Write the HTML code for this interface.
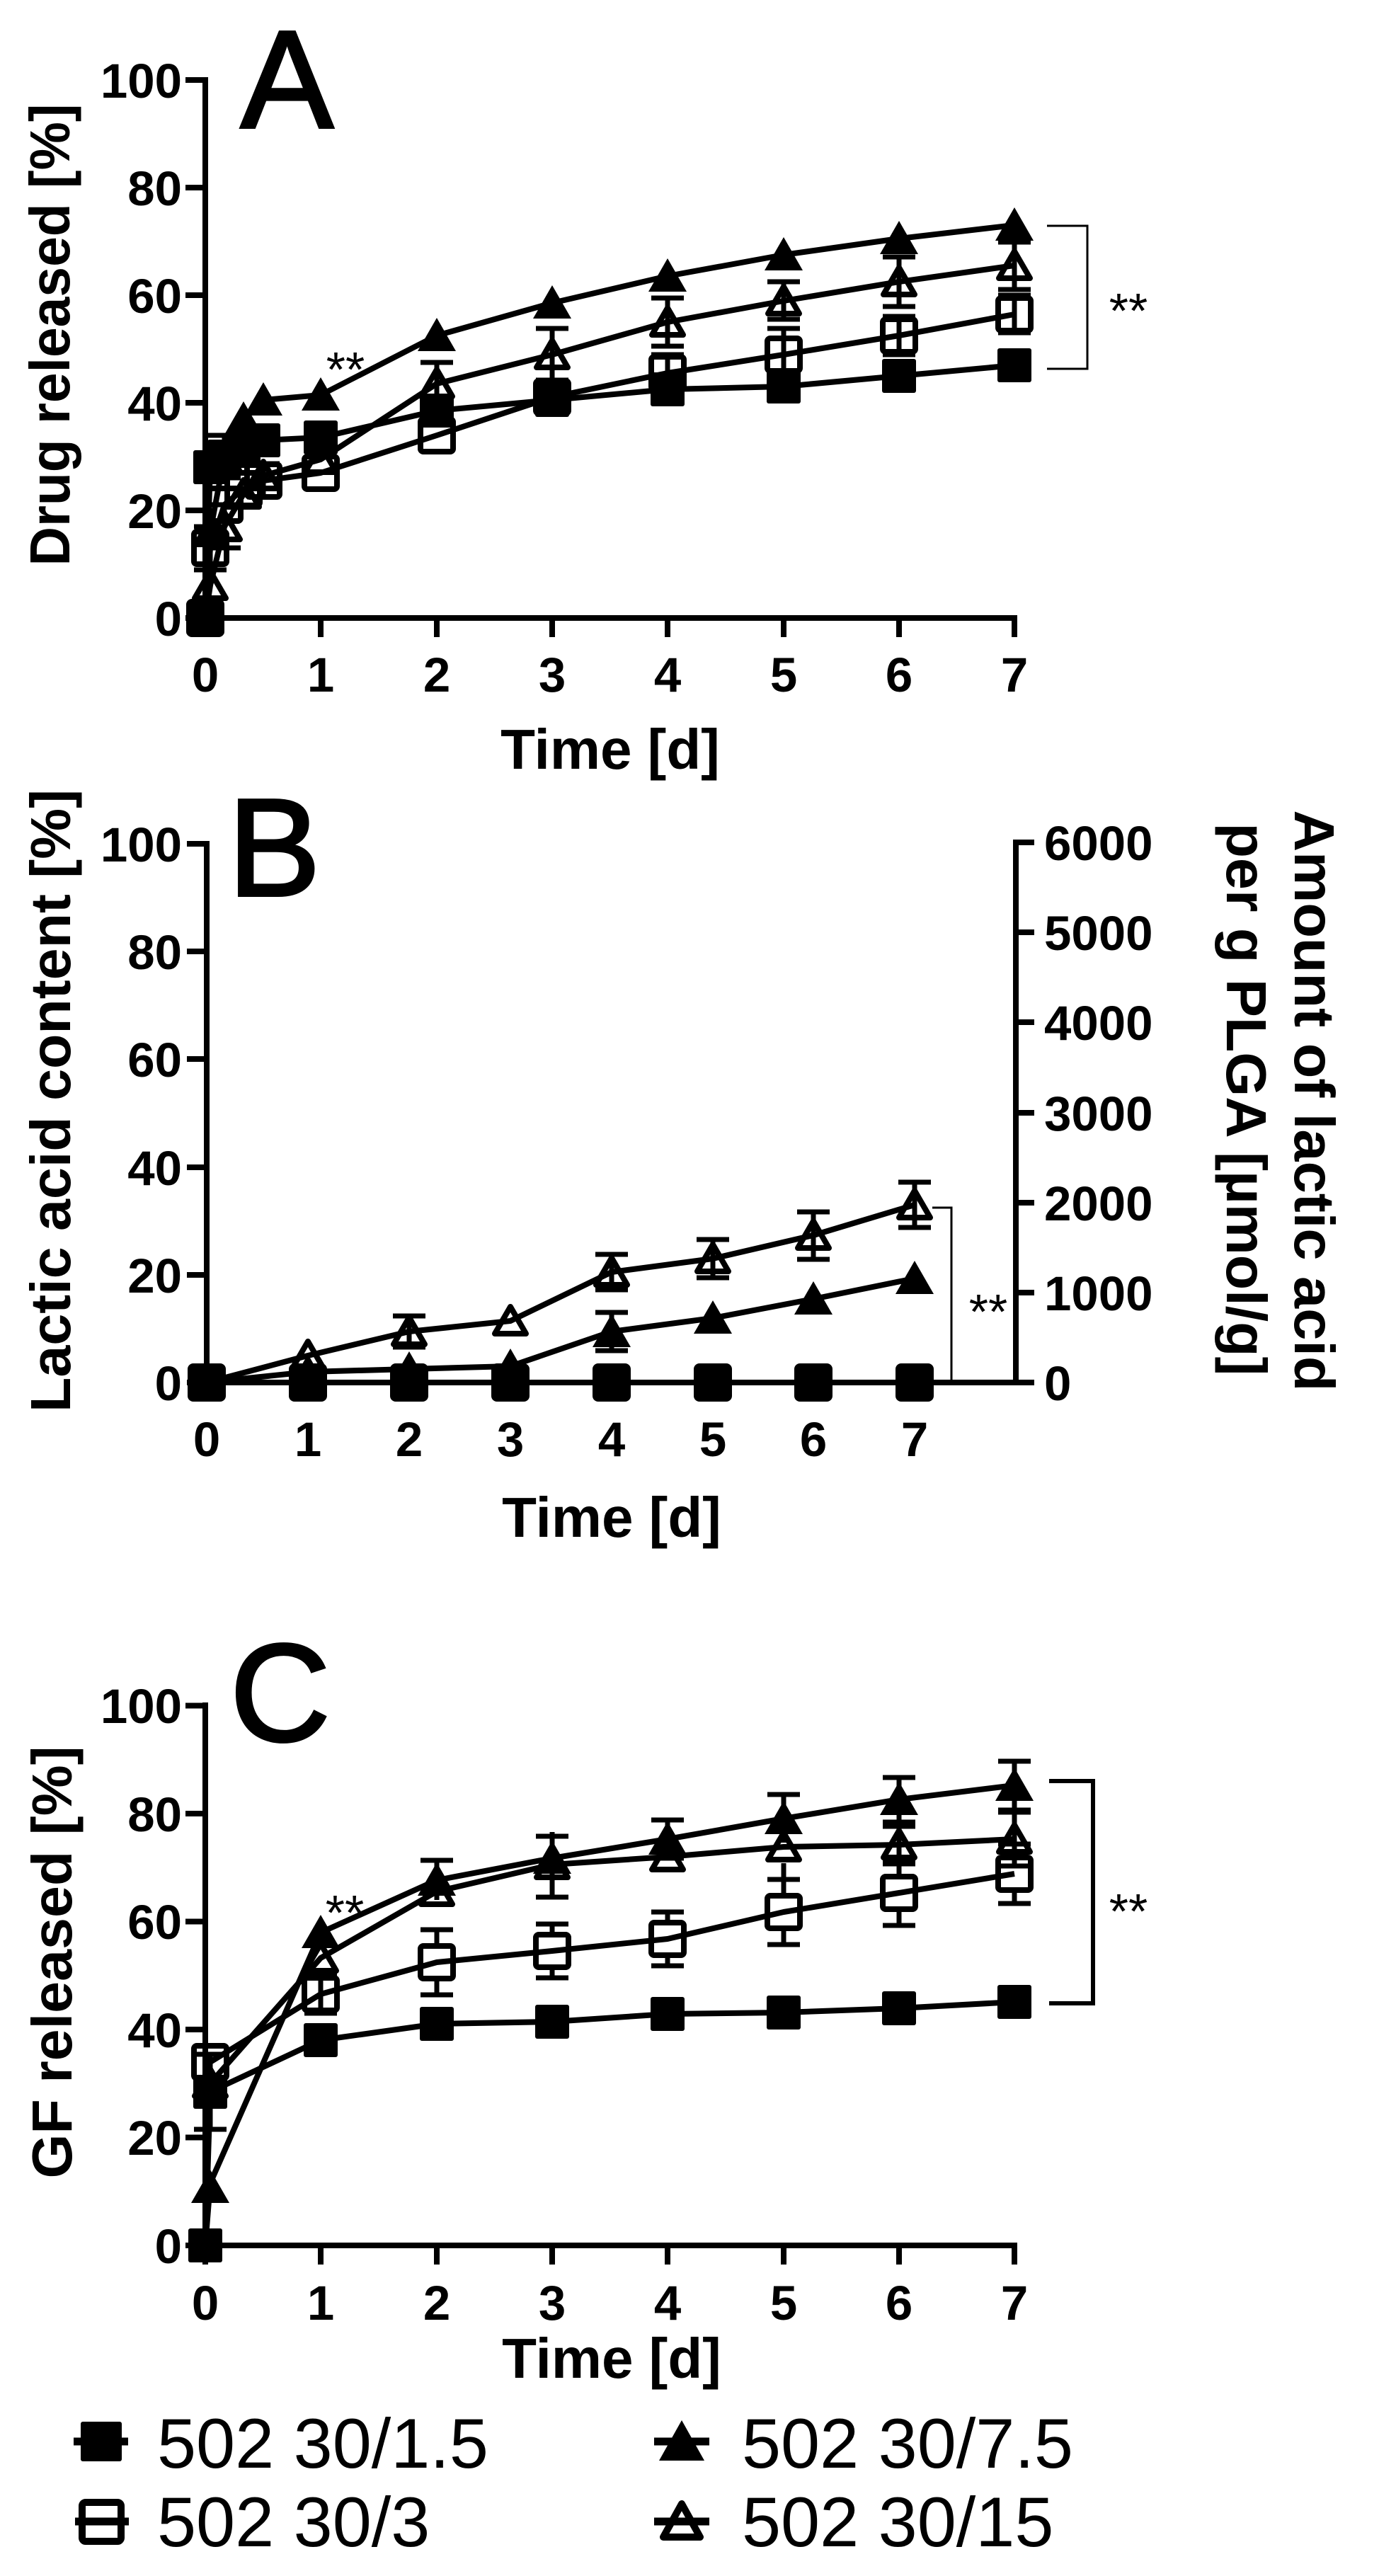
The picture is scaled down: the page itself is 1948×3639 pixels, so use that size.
<!DOCTYPE html>
<html>
<head>
<meta charset="utf-8">
<style>
html,body{margin:0;padding:0;background:#fff;}
svg{display:block;}
text{font-family:"Liberation Sans",Arial,sans-serif;fill:#000;}
.tk{font-size:69px;font-weight:bold;}
.ttl{font-size:80px;font-weight:bold;}
.pl{font-size:196px;stroke:#000;stroke-width:4;}
.st{font-size:70px;}
.lg{font-size:99px;}
</style>
</head>
<body>
<svg width="1948" height="3639" viewBox="0 0 1948 3639" xmlns="http://www.w3.org/2000/svg">
<defs>
<g id="fs"><rect x="-24" y="-24" width="48" height="48" rx="3" fill="#000"/></g>
<g id="os"><rect x="-23" y="-23" width="46" height="46" rx="4" fill="none" stroke="#000" stroke-width="8"/></g>
<g id="ft"><path d="M0,-25 L27,22 L-27,22 Z" fill="#000"/></g>
<g id="ot"><path d="M0,-20 L22,18 L-22,18 Z" fill="none" stroke="#000" stroke-width="8" stroke-linejoin="round"/></g>
</defs>
<rect width="1948" height="3639" fill="#fff"/>

<!-- ===================== PANEL A ===================== -->
<text class="pl" x="340" y="180">A</text>
<g stroke="#000" stroke-width="8" fill="none">
  <path d="M290,109 V877"/>
  <path d="M262,113 H290 M262,265 H290 M262,417 H290 M262,569 H290 M262,721 H290 M262,873 H290"/>
  <path d="M286,873 H1437"/>
  <path d="M290,873 V900 M453,873 V900 M617,873 V900 M780,873 V900 M943,873 V900 M1107,873 V900 M1270,873 V900 M1433,873 V900"/>
</g>
<g class="tk" text-anchor="end">
  <text x="257" y="138">100</text>
  <text x="257" y="290">80</text>
  <text x="257" y="442">60</text>
  <text x="257" y="594">40</text>
  <text x="257" y="746">20</text>
  <text x="257" y="898">0</text>
</g>
<g class="tk" text-anchor="middle">
  <text x="290" y="977">0</text><text x="453" y="977">1</text><text x="617" y="977">2</text><text x="780" y="977">3</text>
  <text x="943" y="977">4</text><text x="1107" y="977">5</text><text x="1270" y="977">6</text><text x="1433" y="977">7</text>
</g>
<text class="ttl" text-anchor="middle" x="862" y="1086">Time [d]</text>
<text class="ttl" text-anchor="middle" transform="translate(98,473) rotate(-90)" textLength="653" lengthAdjust="spacingAndGlyphs">Drug released [%]</text>

<!-- error bars A -->
<g stroke="#000" stroke-width="7" fill="none">
  <path d="M617,512 V573 M594,512 H640 M594,573 H640"/>
  <path d="M780,464 V537 M757,464 H803 M757,537 H803"/>
  <path d="M943,421 V489 M920,421 H966 M920,489 H966"/>
  <path d="M1107,398 V451 M1084,398 H1130 M1084,451 H1130"/>
  <path d="M1270,363 V433 M1247,363 H1293 M1247,433 H1293"/>
  <path d="M1433,342 V409 M1410,342 H1456 M1410,409 H1456"/>
  <path d="M943,501 V554 M920,501 H966 M920,554 H966"/>
  <path d="M1107,464 V537 M1084,464 H1130 M1084,537 H1130"/>
  <path d="M1270,447 V501 M1247,447 H1293 M1247,501 H1293"/>
  <path d="M1433,417 V470 M1410,417 H1456 M1410,470 H1456"/>
  <path d="M297,744 V805 M274,744 H320 M274,805 H320"/>
  <path d="M317,713 V774 M294,713 H340 M294,774 H340"/>
  <path d="M317,615 V675 M294,615 H340 M294,675 H340"/>
  <path d="M372,655 V702 M349,655 H395 M349,702 H395"/>
</g>
<!-- lines A -->
<g stroke="#000" stroke-width="8" fill="none" stroke-linejoin="round">
  <polyline points="290,873 297,660 317,645 344,637 372,622 453,618 617,580 780,565 943,550 1107,546 1270,531 1433,516"/>
  <polyline points="290,873 297,751 317,645 344,592 372,565 453,558 617,474 780,428 943,390 1107,360 1270,337 1433,318"/>
  <polyline points="290,873 297,774 317,713 344,691 372,679 453,668 617,615 780,561 943,527 1107,501 1270,474 1433,444"/>
  <polyline points="290,873 297,827 317,744 344,698 372,672 453,649 617,542 780,501 943,455 1107,425 1270,398 1433,375"/>
</g>
<!-- markers A -->
<g>
  <use href="#os" x="290" y="873"/><use href="#os" x="297" y="774"/><use href="#os" x="317" y="713"/><use href="#os" x="344" y="691"/><use href="#os" x="372" y="679"/><use href="#os" x="453" y="668"/><use href="#os" x="617" y="615"/><use href="#os" x="780" y="561"/><use href="#os" x="943" y="527"/><use href="#os" x="1107" y="501"/><use href="#os" x="1270" y="474"/><use href="#os" x="1433" y="444"/>
  <use href="#ot" x="290" y="873"/><use href="#ot" x="297" y="827"/><use href="#ot" x="317" y="744"/><use href="#ot" x="344" y="698"/><use href="#ot" x="372" y="672"/><use href="#ot" x="453" y="649"/><use href="#ot" x="617" y="542"/><use href="#ot" x="780" y="501"/><use href="#ot" x="943" y="455"/><use href="#ot" x="1107" y="425"/><use href="#ot" x="1270" y="398"/><use href="#ot" x="1433" y="375"/>
  <use href="#fs" x="290" y="873"/><use href="#fs" x="297" y="660"/><use href="#fs" x="317" y="645"/><use href="#fs" x="344" y="637"/><use href="#fs" x="372" y="622"/><use href="#fs" x="453" y="618"/><use href="#fs" x="617" y="580"/><use href="#fs" x="780" y="565"/><use href="#fs" x="943" y="550"/><use href="#fs" x="1107" y="546"/><use href="#fs" x="1270" y="531"/><use href="#fs" x="1433" y="516"/>
  <use href="#ft" x="290" y="873"/><use href="#ft" x="297" y="751"/><use href="#ft" x="317" y="645"/><use href="#ft" x="344" y="592"/><use href="#ft" x="372" y="565"/><use href="#ft" x="453" y="558"/><use href="#ft" x="617" y="474"/><use href="#ft" x="780" y="428"/><use href="#ft" x="943" y="390"/><use href="#ft" x="1107" y="360"/><use href="#ft" x="1270" y="337"/><use href="#ft" x="1433" y="318"/>
</g>
<path d="M1479,319 H1536 V521 H1479" stroke="#000" stroke-width="3" fill="none"/>
<text class="st" text-anchor="middle" x="1594" y="463">**</text>
<text class="st" text-anchor="middle" x="488" y="546">**</text>

<!-- ===================== PANEL B ===================== -->
<text class="pl" x="322" y="1265">B</text>
<g stroke="#000" stroke-width="8" fill="none">
  <path d="M292,1188 V1957"/>
  <path d="M264,1192 H292 M264,1344 H292 M264,1496 H292 M264,1649 H292 M264,1801 H292 M264,1953 H292"/>
  <path d="M288,1953 H1439"/>
  <path d="M292,1953 V1980 M435,1953 V1980 M578,1953 V1980 M721,1953 V1980 M864,1953 V1980 M1007,1953 V1980 M1149,1953 V1980 M1292,1953 V1980"/>
  <path d="M1435,1186 V1957"/>
  <path d="M1435,1190 H1461 M1435,1317 H1461 M1435,1444 H1461 M1435,1572 H1461 M1435,1699 H1461 M1435,1826 H1461 M1435,1953 H1461"/>
</g>
<g class="tk" text-anchor="end">
  <text x="257" y="1217">100</text>
  <text x="257" y="1369">80</text>
  <text x="257" y="1521">60</text>
  <text x="257" y="1674">40</text>
  <text x="257" y="1826">20</text>
  <text x="257" y="1978">0</text>
</g>
<g class="tk">
  <text x="1475" y="1215">6000</text>
  <text x="1475" y="1342">5000</text>
  <text x="1475" y="1469">4000</text>
  <text x="1475" y="1597">3000</text>
  <text x="1475" y="1724">2000</text>
  <text x="1475" y="1851">1000</text>
  <text x="1475" y="1978">0</text>
</g>
<g class="tk" text-anchor="middle">
  <text x="292" y="2057">0</text><text x="435" y="2057">1</text><text x="578" y="2057">2</text><text x="721" y="2057">3</text>
  <text x="864" y="2057">4</text><text x="1007" y="2057">5</text><text x="1149" y="2057">6</text><text x="1292" y="2057">7</text>
</g>
<text class="ttl" text-anchor="middle" x="864" y="2171">Time [d]</text>
<text class="ttl" text-anchor="middle" transform="translate(99,1555) rotate(-90)" textLength="880" lengthAdjust="spacingAndGlyphs">Lactic acid content [%]</text>
<text class="ttl" text-anchor="middle" transform="translate(1829,1555) rotate(90)" textLength="821" lengthAdjust="spacingAndGlyphs">Amount of lactic acid</text>
<text class="ttl" text-anchor="middle" transform="translate(1733,1553) rotate(90)" textLength="781" lengthAdjust="spacingAndGlyphs">per g PLGA [µmol/g]</text>

<g stroke="#000" stroke-width="7" fill="none">
  <path d="M578,1859 V1903 M555,1859 H601 M555,1903 H601"/>
  <path d="M864,1772 V1822 M841,1772 H887 M841,1822 H887"/>
  <path d="M864,1854 V1908 M841,1854 H887 M841,1908 H887"/>
  <path d="M1007,1751 V1805 M984,1751 H1030 M984,1805 H1030"/>
  <path d="M1149,1712 V1779 M1126,1712 H1172 M1126,1779 H1172"/>
  <path d="M1292,1670 V1734 M1269,1670 H1315 M1269,1734 H1315"/>
</g>
<g stroke="#000" stroke-width="8" fill="none" stroke-linejoin="round">
  <polyline points="292,1953 435,1938 578,1934 721,1930 864,1881 1007,1862 1149,1835 1292,1806"/>
  <polyline points="292,1953 435,1915 578,1881 721,1866 864,1797 1007,1778 1149,1745 1292,1702"/>
</g>
<g>
  <use href="#os" x="292" y="1953"/><use href="#os" x="435" y="1953"/><use href="#os" x="578" y="1953"/><use href="#os" x="721" y="1953"/><use href="#os" x="864" y="1953"/><use href="#os" x="1007" y="1953"/><use href="#os" x="1149" y="1953"/><use href="#os" x="1292" y="1953"/>
  <use href="#fs" x="292" y="1953"/><use href="#fs" x="435" y="1953"/><use href="#fs" x="578" y="1953"/><use href="#fs" x="721" y="1953"/><use href="#fs" x="864" y="1953"/><use href="#fs" x="1007" y="1953"/><use href="#fs" x="1149" y="1953"/><use href="#fs" x="1292" y="1953"/>
  <use href="#ot" x="435" y="1915"/><use href="#ot" x="578" y="1881"/><use href="#ot" x="721" y="1866"/><use href="#ot" x="864" y="1797"/><use href="#ot" x="1007" y="1778"/><use href="#ot" x="1149" y="1745"/><use href="#ot" x="1292" y="1702"/>
  <use href="#ft" x="435" y="1938"/><use href="#ft" x="578" y="1934"/><use href="#ft" x="721" y="1930"/><use href="#ft" x="864" y="1881"/><use href="#ft" x="1007" y="1862"/><use href="#ft" x="1149" y="1835"/><use href="#ft" x="1292" y="1806"/>
</g>
<path d="M1317,1706 H1344 V1953" stroke="#000" stroke-width="3" fill="none"/>
<text class="st" text-anchor="middle" x="1396" y="1877">**</text>

<!-- ===================== PANEL C ===================== -->
<text class="pl" x="325" y="2459">C</text>
<g stroke="#000" stroke-width="8" fill="none">
  <path d="M290,2405 V3176"/>
  <path d="M262,2409.5 H290 M262,2562 H290 M262,2714.5 H290 M262,2867 H290 M262,3019.5 H290 M262,3172 H290"/>
  <path d="M286,3172 H1437"/>
  <path d="M290,3172 V3199 M453,3172 V3199 M617,3172 V3199 M780,3172 V3199 M943,3172 V3199 M1107,3172 V3199 M1270,3172 V3199 M1433,3172 V3199"/>
</g>
<g class="tk" text-anchor="end">
  <text x="257" y="2434">100</text>
  <text x="257" y="2587">80</text>
  <text x="257" y="2739">60</text>
  <text x="257" y="2892">40</text>
  <text x="257" y="3044">20</text>
  <text x="257" y="3197">0</text>
</g>
<g class="tk" text-anchor="middle">
  <text x="290" y="3277">0</text><text x="453" y="3277">1</text><text x="617" y="3277">2</text><text x="780" y="3277">3</text>
  <text x="943" y="3277">4</text><text x="1107" y="3277">5</text><text x="1270" y="3277">6</text><text x="1433" y="3277">7</text>
</g>
<text class="ttl" text-anchor="middle" x="864" y="3359">Time [d]</text>
<text class="ttl" text-anchor="middle" transform="translate(101,2772) rotate(-90)" textLength="611" lengthAdjust="spacingAndGlyphs">GF released [%]</text>

<g stroke="#000" stroke-width="7" fill="none">
  <path d="M297,2902 V3008 M274,3008 H320 M274,2902 H320"/>
  <path d="M617,2628 V2684 M594,2628 H640"/>
  <path d="M780,2594 V2656 M757,2594 H803"/>
  <path d="M943,2571 V2625 M920,2571 H966 M920,2625 H966"/>
  <path d="M1107,2535 V2603 M1084,2535 H1130"/>
  <path d="M1270,2511 V2574 M1247,2511 H1293 M1247,2574 H1293"/>
  <path d="M1433,2488 V2557 M1410,2488 H1456 M1410,2557 H1456"/>
  <path d="M780,2588 V2610 M780,2655 V2680 M757,2680 H803"/>
  <path d="M1107,2563 V2585 M1107,2632 V2655 M1084,2655 H1130"/>
  <path d="M1270,2580 V2633 M1247,2580 H1293 M1247,2633 H1293"/>
  <path d="M1433,2560 V2636 M1410,2560 H1456 M1410,2636 H1456"/>
  <path d="M453,2791 V2844 M430,2791 H476 M430,2844 H476"/>
  <path d="M617,2726 V2748 M617,2796 V2818 M594,2726 H640 M594,2818 H640"/>
  <path d="M780,2718 V2732 M780,2780 V2794 M757,2718 H803 M757,2794 H803"/>
  <path d="M943,2701 V2715 M943,2763 V2777 M920,2701 H966 M920,2777 H966"/>
  <path d="M1107,2655 V2677 M1107,2725 V2747 M1084,2655 H1130 M1084,2747 H1130"/>
  <path d="M1270,2628 V2650 M1270,2698 V2720 M1247,2628 H1293 M1247,2720 H1293"/>
  <path d="M1433,2605 V2623 M1433,2671 V2689 M1410,2605 H1456 M1410,2689 H1456"/>
</g>
<g stroke="#000" stroke-width="8" fill="none" stroke-linejoin="round">
  <polyline points="290,3172 297,2955 453,2882 617,2859 780,2856 943,2845 1107,2843 1270,2837 1433,2828"/>
  <polyline points="290,3172 297,3084 453,2730 617,2656 780,2625 943,2598 1107,2569 1270,2542 1433,2522"/>
  <polyline points="297,2943 453,2766 617,2672 780,2634 943,2623 1107,2609 1270,2606 1433,2598"/>
  <polyline points="297,2913 453,2817 617,2772 780,2756 943,2739 1107,2701 1270,2674 1433,2647"/>
</g>
<g>
  <use href="#os" x="297" y="2913"/><use href="#os" x="453" y="2817"/><use href="#os" x="617" y="2772"/><use href="#os" x="780" y="2756"/><use href="#os" x="943" y="2739"/><use href="#os" x="1107" y="2701"/><use href="#os" x="1270" y="2674"/><use href="#os" x="1433" y="2647"/>
  <use href="#ot" x="297" y="2943"/><use href="#ot" x="453" y="2766"/><use href="#ot" x="617" y="2672"/><use href="#ot" x="780" y="2634"/><use href="#ot" x="943" y="2623"/><use href="#ot" x="1107" y="2609"/><use href="#ot" x="1270" y="2606"/><use href="#ot" x="1433" y="2598"/>
  <use href="#fs" x="290" y="3172"/><use href="#fs" x="297" y="2955"/><use href="#fs" x="453" y="2882"/><use href="#fs" x="617" y="2859"/><use href="#fs" x="780" y="2856"/><use href="#fs" x="943" y="2845"/><use href="#fs" x="1107" y="2843"/><use href="#fs" x="1270" y="2837"/><use href="#fs" x="1433" y="2828"/>
  <use href="#ft" x="297" y="3090"/><use href="#ft" x="453" y="2730"/><use href="#ft" x="617" y="2656"/><use href="#ft" x="780" y="2625"/><use href="#ft" x="943" y="2598"/><use href="#ft" x="1107" y="2569"/><use href="#ft" x="1270" y="2542"/><use href="#ft" x="1433" y="2522"/>
</g>
<path d="M1482,2516 H1544 V2830 H1482" stroke="#000" stroke-width="6" fill="none"/>
<text class="st" text-anchor="middle" x="1594" y="2724">**</text>
<text class="st" text-anchor="middle" x="487" y="2726">**</text>

<!-- ===================== LEGEND ===================== -->
<g stroke="#000" stroke-width="11" fill="none">
  <path d="M104,3449 H181"/>
  <path d="M924,3449 H1002"/>
  <path d="M106,3562 H182"/>
  <path d="M924,3562 H1002"/>
</g>
<rect x="114" y="3421" width="58" height="56" rx="3" fill="#000"/>
<rect x="116" y="3535" width="55" height="55" rx="5" fill="none" stroke="#000" stroke-width="10"/>
<path d="M963,3419 L995,3476 L931,3476 Z" fill="#000"/>
<path d="M963,3537 L989,3584 L937,3584 Z" fill="none" stroke="#000" stroke-width="10" stroke-linejoin="round"/>
<g class="lg">
  <text x="222" y="3486">502 30/1.5</text>
  <text x="1048" y="3486">502 30/7.5</text>
  <text x="222" y="3597">502 30/3</text>
  <text x="1048" y="3597">502 30/15</text>
</g>
</svg>
</body>
</html>
